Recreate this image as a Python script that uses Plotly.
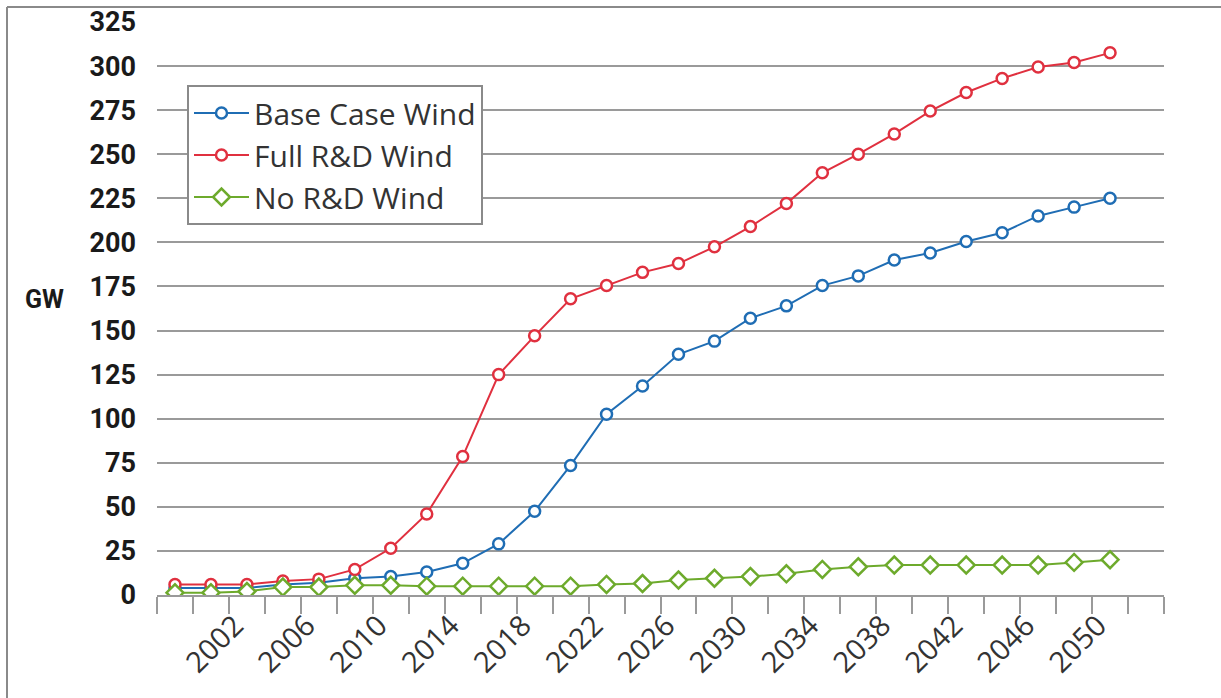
import plotly.graph_objects as go

years = list(range(1998, 2051, 2))

base_case = [4, 4, 4, 6, 7, 9.5, 10.5, 13, 18, 29, 47.5, 73.5, 102.5, 118.5, 136.5,
             144, 157, 164, 175.5, 181, 190, 194, 200.5, 205.5, 215, 220, 225]
full_rd = [6, 6, 6, 8, 9, 14.5, 26.5, 46, 78.5, 125, 147, 168, 175.5, 183, 188,
           197.5, 209, 222, 239.5, 250, 261.5, 274.5, 285, 293, 299.5, 302, 307.5]
no_rd = [1.3, 1.3, 2, 4.5, 4.5, 5.5, 5.5, 5, 5, 5, 5, 5, 6, 6.5, 8.5,
         9.5, 10.5, 12, 14.5, 16, 17, 17, 17, 17, 17, 18.5, 20]

series_names = ["Base Case Wind", "Full R&D Wind", "No R&D Wind"]
colors = ["#1f6db4", "#e0303f", "#6daa2c"]
symbols = ["circle", "circle", "diamond"]

y_ticks = list(range(0, 326, 25))
x_label_vals = list(range(2002, 2051, 4))
x_minor_vals = list(range(1997, 2054, 2))

W, H = 1221, 698
ML, MR, MT, MB = 157, W - 1164, 22, H - 595
PW, PH = W - ML - MR, H - MT - MB

fig = go.Figure()
for name, vals, c, s in zip(series_names, [base_case, full_rd, no_rd], colors, symbols):
    fig.add_trace(go.Scatter(
        x=years, y=vals, name=name, mode="lines+markers",
        line=dict(color=c, width=2),
        marker=dict(symbol=s, size=11 if s == "circle" else 13, color="white",
                    line=dict(color=c, width=2.5)),
    ))

grid_c = "#9a9a9a"
bold_font = "Roboto, Liberation Sans, sans-serif"
fig.update_layout(
    width=W, height=H,
    margin=dict(l=ML, r=MR, t=MT, b=MB, pad=0, autoexpand=False),
    paper_bgcolor="white", plot_bgcolor="white",
    showlegend=True,
    legend=dict(
        x=(187 - ML) / PW, y=(595 - 85) / PH, xanchor="left", yanchor="top",
        bgcolor="white", bordercolor="#8a8a8a", borderwidth=2,
        font=dict(family="Open Sans, Liberation Sans, sans-serif", size=30, color="#333333"),
        itemwidth=55, tracegroupgap=0, entrywidth=300, entrywidthmode="pixels",
    ),
    xaxis=dict(
        range=[1997, 2053], showgrid=False, zeroline=False, automargin=False,
        showline=True, linecolor=grid_c, linewidth=2,
        tickmode="array", tickvals=x_label_vals, ticktext=[str(v) for v in x_label_vals],
        ticks="", tickangle=-45, ticklabelstandoff=0, ticklabelshift=-12,
        tickfont=dict(family="Open Sans, Liberation Sans, sans-serif", size=29, color="#333333"),
        minor=dict(tickmode="array", tickvals=x_minor_vals, ticks="outside", ticklen=17,
                   tickwidth=2, tickcolor=grid_c, showgrid=False),
    ),
    yaxis=dict(
        range=[0, 325], tickmode="array", tickvals=y_ticks, automargin=False,
        showgrid=True, gridcolor=grid_c, gridwidth=2, zeroline=False,
        showline=False, ticks="", ticklabelstandoff=20,
        tickfont=dict(family=bold_font, size=27, color="#1a1a1a", weight="bold"),
    ),
)

fig.add_annotation(
    text="<b>GW</b>", xref="paper", yref="paper", xanchor="center", yanchor="middle",
    x=(44 - ML) / PW, y=(595 - 299) / PH, showarrow=False,
    font=dict(family=bold_font, size=25, color="#1a1a1a"),
)

# outer frame (top and left edges visible)
fx = (7 - ML) / PW
fy = (595 - 7) / PH
fig.add_shape(type="line", xref="paper", yref="paper", x0=fx, x1=(W + 5 - ML) / PW, y0=fy, y1=fy,
              line=dict(color="#8a8a8a", width=2))
fig.add_shape(type="line", xref="paper", yref="paper", x0=fx, x1=fx, y0=fy, y1=(595 - H - 5) / PH,
              line=dict(color="#8a8a8a", width=2))

fig.write_html("out.html", config={"displayModeBar": False},
               post_script="document.body.style.margin='0';document.body.style.overflow='hidden';")
